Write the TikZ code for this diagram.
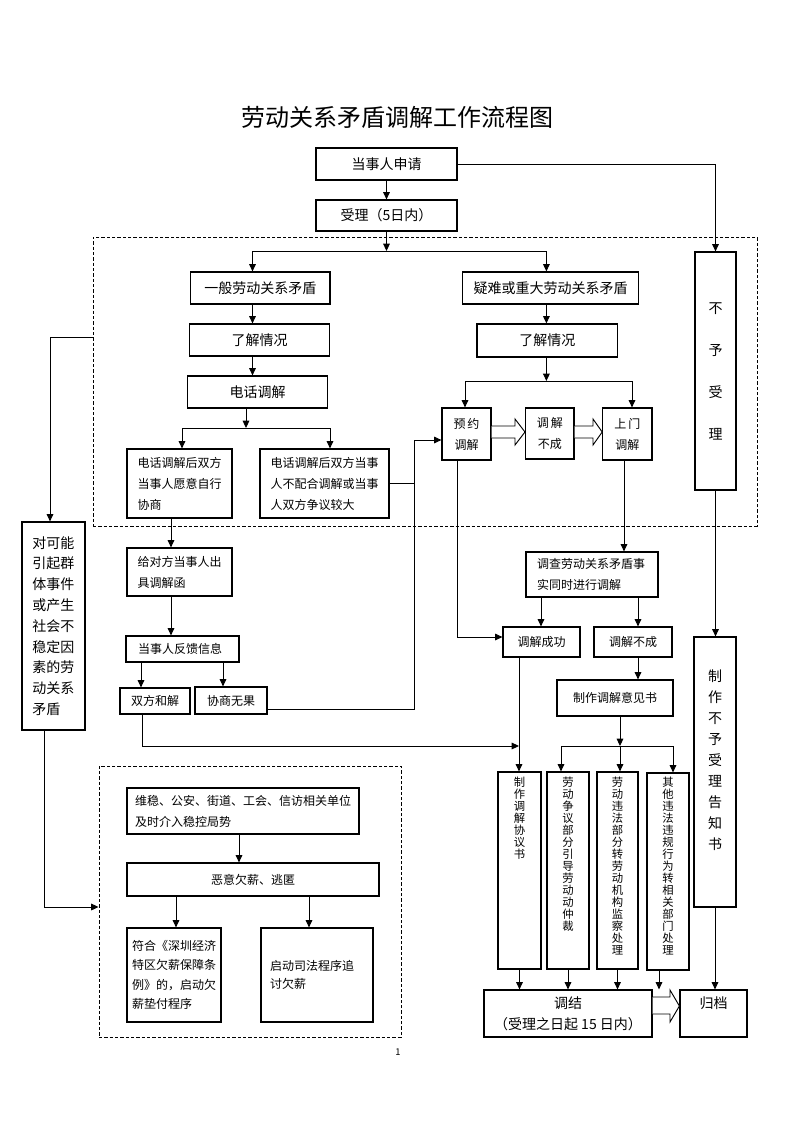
\documentclass[tikz,border=0pt]{standalone}
\usepackage{fontspec}
\setmainfont{Noto Sans CJK SC}
\usetikzlibrary{arrows.meta,calc}
\newcommand\wuhao{\fontsize{10.5pt}{15.75pt}\selectfont}
\newcommand\xiaowu{\fontsize{9pt}{15.75pt}\selectfont}
\newcommand\qihao{\fontsize{8.5pt}{9pt}\selectfont}
\begin{document}
\begin{tikzpicture}[x=0.75pt,y=-0.75pt,
  >={Triangle[length=5.5pt,width=5pt]},
  line width=0.7pt,
  box/.style={draw, line width=0.9pt, inner sep=0pt, font=\wuhao, align=center},
  sbox/.style={box, font=\xiaowu},
  lbox/.style={sbox, align=left},
  zone/.style={draw, dash pattern=on 2.5pt off 1.5pt, line width=0.7pt, inner sep=0pt},
  hollow/.style={draw, line width=0.7pt, fill=white},
  vtext/.style={inner sep=0pt, font=\qihao, align=center, anchor=north}]
\useasboundingbox (0,0) rectangle (793,1122);

\node[font=\fontsize{18pt}{20pt}\selectfont] (title) at (397,117) {劳动关系矛盾调解工作流程图};

% dashed areas
\node[zone, minimum width=498pt, minimum height=216.75pt] (Z1) at (425,381.5) {};
\node[zone, minimum width=226.5pt, minimum height=203.25pt] (Z2) at (250,901.5) {};

% top
\node[box, minimum width=105.75pt, minimum height=24pt] (A) at (386.5,164) {当事人申请};
\node[box, minimum width=105.75pt, minimum height=23.25pt] (B) at (386.5,215.5) {受理（5日内）};
\node[box, minimum width=30.75pt, minimum height=178.5pt, font=\fontsize{10.5pt}{31.5pt}\selectfont] (T) at (715.5,371) {不\\予\\受\\理};

% left branch
\node[box, minimum width=104.55pt, minimum height=24pt] (C1) at (260.3,288) {一般劳动关系矛盾};
\node[box, minimum width=104.7pt, minimum height=24pt] (D1) at (259.5,340) {了解情况};
\node[box, minimum width=105pt, minimum height=24pt] (E1) at (257.5,392) {电话调解};
\node[lbox, text width=63pt, inner xsep=7.875pt, minimum height=51.75pt] (G1) at (179.5,483.5) {电话调解后双方\\当事人愿意自行\\协商};
\node[lbox, text width=81pt, inner xsep=7.875pt, minimum height=51.75pt] (G2) at (324.5,483.5) {电话调解后双方当事\\人不配合调解或当事\\人双方争议较大};
\node[lbox, text width=63pt, inner xsep=7.875pt, minimum height=36pt] (H1) at (179.5,572) {给对方当事人出\\具调解函};
\node[lbox, text width=66.75pt, inner xsep=9pt, minimum height=19.5pt] (I1) at (182.5,649) {当事人反馈信息};
\node[sbox, minimum width=52.5pt, minimum height=19.5pt] (J1) at (155,701) {双方和解};
\node[sbox, minimum width=54pt, minimum height=20.25pt] (J2) at (231,700.5) {协商无果};

% right branch
\node[box, minimum width=131.6pt, minimum height=24pt] (C2) at (550.5,288) {疑难或重大劳动关系矛盾};
\node[box, minimum width=105.4pt, minimum height=24.75pt] (D2) at (547.3,340.5) {了解情况};
\node[sbox, minimum width=36.75pt, minimum height=39pt] (F1) at (466.5,434) {预\,约\\调解};
\node[sbox, minimum width=36.3pt, minimum height=38.25pt] (F2) at (549.8,433.5) {调\,解\\不成};
\node[sbox, minimum width=36.9pt, minimum height=39pt] (F3) at (627.4,434) {上\,门\\调解};
\node[lbox, text width=82.5pt, inner xsep=8.25pt, minimum height=33.75pt] (K) at (592,574.5) {调查劳动关系矛盾事\\实同时进行调解};
\node[sbox, minimum width=57.75pt, minimum height=22.5pt] (M1) at (541.5,642) {调解成功};
\node[sbox, minimum width=58.5pt, minimum height=22.5pt] (M2) at (633,642) {调解不成};
\node[sbox, minimum width=87pt, minimum height=27pt] (N) at (615,698) {制作调解意见书};
\node[box, minimum width=31.5pt, minimum height=202.5pt] (S) at (715,772) {};
\node[vtext, font=\wuhao] (St) at ($(S.north)+(0,33)$) {制\\作\\不\\予\\受\\理\\告\\知\\书};

% result columns
\node[box, minimum width=32.25pt, minimum height=147.75pt] (P1) at (519.5,870.5) {};
\node[box, minimum width=31.5pt, minimum height=147.75pt] (P2) at (568,870.5) {};
\node[box, minimum width=30.75pt, minimum height=147.75pt] (P3) at (617.5,870.5) {};
\node[box, minimum width=31.5pt, minimum height=147.75pt] (P4) at (668,871.5) {};
\node[vtext] (P1t) at ($(P1.north)+(0,5)$) {制\\作\\调\\解\\协\\议\\书};
\node[vtext] (P2t) at ($(P2.north)+(0,5)$) {劳\\动\\争\\议\\部\\分\\引\\导\\劳\\动\\动\\仲\\裁};
\node[vtext] (P3t) at ($(P3.north)+(0,5)$) {劳\\动\\违\\法\\部\\分\\转\\劳\\动\\机\\构\\监\\察\\处\\理};
\node[vtext] (P4t) at ($(P4.north)+(0,4)$) {其\\他\\违\\法\\违\\规\\行\\为\\转\\相\\关\\部\\门\\处\\理};
\node[box, minimum width=126pt, minimum height=35.25pt] (Q) at (568,1013.5) {调结\\（受理之日起 15 日内）};
\node[box, minimum width=50.25pt, minimum height=35.25pt] (R) at (713.5,1013.5) {归档\\~};

% far left and bottom area
\node[box, align=left, text width=31.5pt, inner xsep=7.875pt, minimum height=156pt, font=\fontsize{10.5pt}{15.6pt}\selectfont] (L) at (53.5,626) {对可能\\引起群\\体事件\\或产生\\社会不\\稳定因\\素的劳\\动关系\\矛盾};
\node[lbox, text width=162pt, inner xsep=6pt, minimum height=34.5pt] (U1) at (243,811) {维稳、公安、街道、工会、信访相关单位\\及时介入稳控局势};
\node[sbox, minimum width=189pt, minimum height=24.75pt] (U2) at (253,879.5) {恶意欠薪、逃匿};
\node[lbox, text width=63pt, inner xsep=3.75pt, minimum height=70.5pt, font=\fontsize{9pt}{14.5pt}\selectfont] (U3) at (174,975) {符合《深圳经济\\特区欠薪保障条\\例》的，启动欠\\薪垫付程序};
\node[lbox, text width=70.5pt, inner xsep=6.75pt, minimum height=70.5pt, font=\fontsize{9pt}{13.5pt}\selectfont] (U4) at (317,975) {启动司法程序追\\讨欠薪};

\node[font=\fontsize{7pt}{8pt}\selectfont] (pg) at (398,1052) {1};

% junction points
\coordinate (b1) at (386.5,251);
\coordinate (b2) at (252.5,251);
\coordinate (b3) at (546.4,251);
\coordinate (d1) at (546.4,381);
\coordinate (d2) at (465,381);
\coordinate (d3) at (632,381);
\coordinate (e1) at (246,428);
\coordinate (e2) at (182,428);
\coordinate (e3) at (330,428);
\coordinate (w1) at (414,440);
\coordinate (w2) at (414,709);
\coordinate (l1) at (50,337);
\coordinate (l2) at (44,907);
\coordinate (g1) at (171,0);
\coordinate (h1) at (141,0);
\coordinate (h2) at (223,0);
\coordinate (p1) at (142,746);
\coordinate (p2) at (519,746);
\coordinate (f1) at (457,637);
\coordinate (f3) at (624,0);
\coordinate (k1) at (541,0);
\coordinate (k2) at (638,0);
\coordinate (n1) at (620,746);
\coordinate (n2) at (561,746);
\coordinate (n3) at (673,746);
\coordinate (q4) at (659,0);
\coordinate (u0) at (239,0);
\coordinate (u1) at (176,0);
\coordinate (u2) at (309,0);

\draw[->] (A) -- (B);
\draw[->] (A) -| (T);
\draw[->] (B) -- (b1);
\draw (b2) -- (b3);
\draw[->] (b2) -- (b2 |- C1.north);
\draw[->] (b3) -- (b3 |- C2.north);
\draw[->] (b2 |- C1.south) -- (b2 |- D1.north);
\draw[->] (b2 |- D1.south) -- (b2 |- E1.north);
\draw[->] (b3 |- C2.south) -- (b3 |- D2.north);
\draw[->] (b3 |- D2.south) -- (d1);
\draw (d2) -- (d3);
\draw[->] (d2) -- (d2 |- F1.north);
\draw[->] (d3) -- (d3 |- F3.north);
\draw[hollow] (F1.east |- 0,426) -- (515,426) -- (515,419) -- (F2.west |- 0,432) -- (515,445) -- (515,438) -- (F1.east |- 0,438);
\draw[hollow] (F2.east |- 0,426) -- (593,426) -- (593,419) -- (F3.west |- 0,432) -- (593,445) -- (593,438) -- (F2.east |- 0,438);
\draw[->] (e1 |- E1.south) -- (e1);
\draw (e2) -- (e3);
\draw[->] (e2) -- (e2 |- G1.north);
\draw[->] (e3) -- (e3 |- G2.north);
\draw (G2.east) -- (G2.east -| w1);
\draw[->] (w2 -| J2.east) -- (w2) -- (w1) -- (w1 -| F1.west);
\draw[->] (l1 -| Z1.west) -- (l1) -- (l1 |- L.north);
\draw[->] (l2 |- L.south) -- (l2) -- (l2 -| Z2.west);
\draw[->] (g1 |- G1.south) -- (g1 |- H1.north);
\draw[->] (g1 |- H1.south) -- (g1 |- I1.north);
\draw[->] (h1 |- I1.south) -- (h1 |- J1.north);
\draw[->] (h2 |- I1.south) -- (h2 |- J2.north);
\draw[->] (p1 |- J1.south) -- (p1) -- (p2);
\draw[->] (f1 |- F1.south) -- (f1) -- (f1 -| M1.west);
\draw[->] (f3 |- F3.south) -- (f3 |- K.north);
\draw[->] (k1 |- K.south) -- (k1 |- M1.north);
\draw[->] (k2 |- K.south) -- (k2 |- M2.north);
\draw[->] (k2 |- M2.south) -- (k2 |- N.north);
\draw[->] (p2 |- M1.south) -- (p2 |- P1.north);
\draw[->] (n1 |- N.south) -- (n1);
\draw (n2) -- (n3);
\draw[->] (n2) -- (n2 |- P2.north);
\draw[->] (n1) -- (n1 |- P3.north);
\draw[->] (n3) -- (n3 |- P4.north);
\draw[->] (T.south) -- (T.south |- S.north);
\draw[->] (S.south) -- (S.south |- R.north);
\draw[->] (P1.south) -- (P1.south |- Q.north);
\draw[->] (P2.south) -- (P2.south |- Q.north);
\draw[->] (P3.south) -- (P3.south |- Q.north);
\draw[->] (q4 |- P4.south) -- (q4 |- Q.north);
\draw[hollow] (Q.east |- 0,997) -- (670,997) -- (670,990) -- (R.west |- 0,1006) -- (670,1022) -- (670,1014) -- (Q.east |- 0,1014);
\draw[->] (u0 |- U1.south) -- (u0 |- U2.north);
\draw[->] (u1 |- U2.south) -- (u1 |- U3.north);
\draw[->] (u2 |- U2.south) -- (u2 |- U4.north);
\end{tikzpicture}
\end{document}
